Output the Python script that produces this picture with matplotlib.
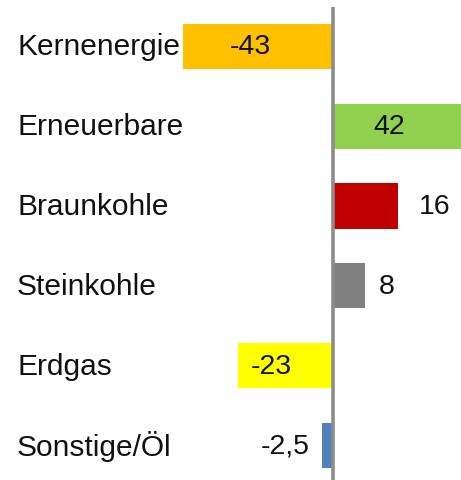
import matplotlib
matplotlib.use("Agg")
import matplotlib.pyplot as plt

categories = ["Kernenergie", "Erneuerbare", "Braunkohle", "Steinkohle", "Erdgas", "Sonstige/Öl"]
values = [-43, 42, 16, 8, -23, -2.5]
colors = ["#FFC000", "#92D050", "#C00000", "#808080", "#FFFF00", "#4F81BD"]
# label placement per bar: 'center' (clipped bars), 'inside', 'outside'
placement = ["center", "center", "outside", "outside", "inside", "outside"]

plt.rcParams["font.family"] = ["Liberation Sans", "DejaVu Sans"]

W, H = 461, 481
fig = plt.figure(figsize=(W / 100, H / 100), dpi=100)

x0_px, x1_px = 183, 461
zero_px = 332.5
scale = 4.1  # px per unit
xmin = (x0_px - zero_px) / scale
xmax = (x1_px - zero_px) / scale

top_px = 7.5
pitch = 79.8
n = len(categories)
bottom_px = top_px + n * pitch
ax = fig.add_axes([x0_px / W, 1 - bottom_px / H, (x1_px - x0_px) / W, (bottom_px - top_px) / H])
ax.set_xlim(xmin, xmax)
ax.set_ylim(n - 0.5, -0.5)
ax.axis("off")

ypos = list(range(n))
ax.barh(ypos, values, height=0.565, color=colors, zorder=2)
ax.axvline(0, color="#8c8c8c", lw=2.6, zorder=3)

ytrans = ax.get_yaxis_transform()
for y, cat in zip(ypos, categories):
    ax.text((17 - x0_px) / (x1_px - x0_px), y, cat, transform=ytrans, ha="left", va="center",
            fontsize=21.5, color="#111111", clip_on=False)

pad = 13 / scale
for y, v, p in zip(ypos, values, placement):
    lab = f"{v:g}".replace(".", ",")
    if p == "center":
        c = min(max(v, xmin), xmax)
        ax.text(c / 2 - 1.8, y, lab, ha="center", va="center", fontsize=20.5, color="#111111")
    elif p == "inside":
        if v < 0:
            ax.text(v + pad, y, lab, ha="left", va="center", fontsize=20.5, color="#111111")
        else:
            ax.text(v - pad, y, lab, ha="right", va="center", fontsize=20.5, color="#111111")
    else:
        extra = 2 if abs(v) > 10 else 0
        if v < 0:
            ax.text(v - pad, y, lab, ha="right", va="center", fontsize=20.5, color="#111111")
        else:
            ax.text(v + pad + extra, y, lab, ha="left", va="center", fontsize=20.5, color="#111111")

fig.savefig("out.png", dpi=100)
